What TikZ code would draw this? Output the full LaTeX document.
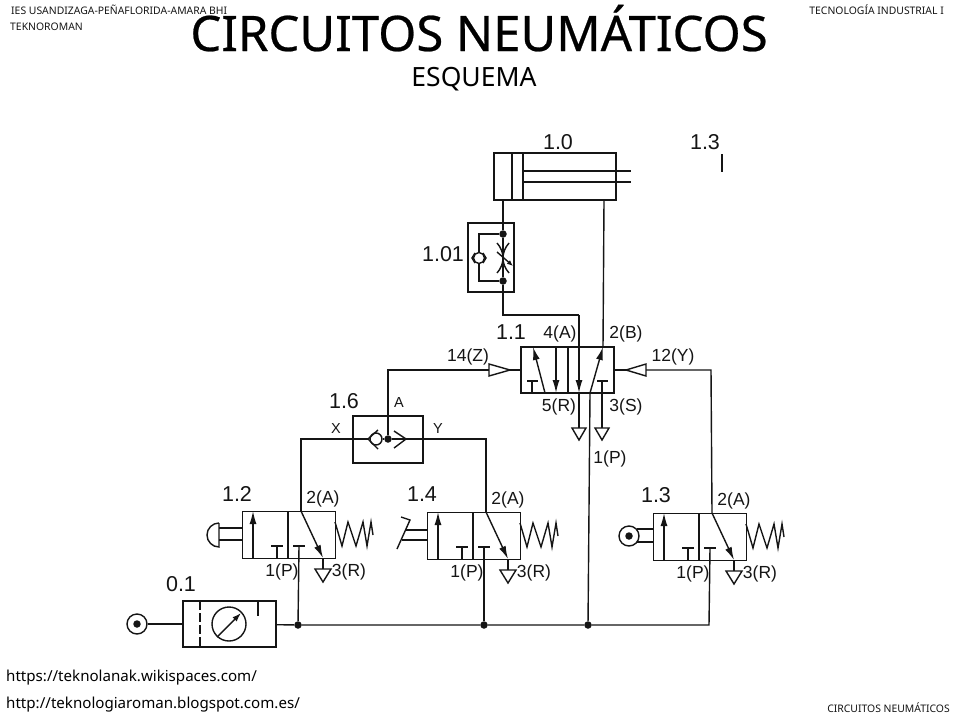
\documentclass[tikz,border=0pt]{standalone}
\usepackage{fontspec}
\setmainfont{Liberation Sans}
\newfontfamily\slidefont{Noto Sans}
\newfontfamily\titlefont[FakeBold=0.5]{Noto Sans}
\usetikzlibrary{arrows.meta}
\definecolor{ink}{HTML}{151515}
\tikzstyle{pipe} = [draw=ink, line width=1.4pt]
\tikzstyle{flow} = [pipe, -{Latex[length=13pt,width=7pt]}]
\tikzstyle{box} = [draw=ink, line width=1.4pt, rectangle, inner sep=0pt]
\tikzstyle{junction} = [fill=ink, circle, inner sep=0pt, minimum size=7.5pt]
\tikzstyle{ring} = [draw=ink, line width=1.4pt, circle, inner sep=0pt]
\tikzstyle{tag} = [inner sep=0pt, text=ink, font=\fontsize{17.5}{19}\selectfont]
\tikzstyle{port} = [inner sep=0pt, text=ink, font=\fontsize{14.5}{16}\selectfont]
\tikzstyle{ident} = [inner sep=0pt, text=ink, font=\fontsize{21.5}{24}\selectfont]
\tikzstyle{small} = [inner sep=0pt, text=ink, font=\slidefont\fontsize{10.4}{12}\selectfont]
\tikzstyle{link} = [inner sep=0pt, text=black, font=\slidefont\fontsize{15.1}{17}\selectfont]
\begin{document}
\begin{tikzpicture}[x=1pt,y=-1pt]
    \useasboundingbox[fill=white] (0,0) rectangle (960,720);
    % slide texts
    \node[small,anchor=west](school) at (11,10){IES USANDIZAGA-PEÑAFLORIDA-AMARA BHI};
    \node[small,anchor=west](team) at (10,27){TEKNOROMAN};
    \node[small,anchor=east](course) at (944,10){TECNOLOGÍA INDUSTRIAL I};
    \node[small,anchor=east](topic) at (950,708){CIRCUITOS NEUMÁTICOS};
    \node[inner sep=0pt,text=black,font=\titlefont\fontsize{49}{52}\selectfont,anchor=base](title) at (479,51){CIRCUITOS NEUMÁTICOS};
    \node[inner sep=0pt,text=black,font=\slidefont\fontsize{26.5}{29}\selectfont,anchor=base](sub) at (474,86){ESQUEMA};
    \node[link,anchor=west](wiki) at (6,678){https://teknolanak.wikispaces.com/};
    \node[link,anchor=west](blog) at (6,705){http://teknologiaroman.blogspot.com.es/};
    % cylinder 1.0
    \node[box,minimum width=122pt,minimum height=47pt](cyl) at (555,176.5){};
    \node[ident](n10) at (558,142){1.0};
    \node[ident](n13top) at (705,142){1.3};
    \coordinate (lim1) at (722,154);
    \coordinate (lim2) at (722,172);
    \draw[pipe] (lim1)--(lim2);
    \draw[pipe] (512,153)--(512,200);
    \draw[pipe] (523,153)--(523,200);
    \draw[pipe] (523,171)--(631,171);
    \draw[pipe] (523,182)--(631,182);
    \coordinate (cylA) at (503,200);
    \coordinate (cylB) at (604,200);
    % flow control 1.01
    \node[box,minimum width=46pt,minimum height=69pt](fc) at (491,257.5){};
    \node[ident](n101) at (443,254){1.01};
    \node[junction](fcT) at (503,234){};
    \node[junction](fcB) at (503,281){};
    \node[ring,minimum size=11pt](fcBall) at (479,258){};
    \draw[pipe] (cylA)--(fcT);
    \draw[pipe] (fcT)--(fcB);
    \draw[pipe] (fcT)-|(fcBall);
    \draw[pipe] (fcB)-|(fcBall);
    \draw[pipe] (475,253)--(472,258)--(475,263);
    \draw[pipe] (483,253)--(486,258)--(483,263);
    \draw[pipe] (497,243) .. controls (505,252) and (505,264) .. (497,273);
    \draw[pipe] (509,243) .. controls (501,252) and (501,264) .. (509,273);
    \draw[pipe,-{Latex[length=6pt,width=5pt]}] (497,252)--(513,266);
    % valve 1.1
    \node[box,minimum width=93pt,minimum height=46pt](v11) at (567.5,370){};
    \node[ident](n11) at (511,332){1.1};
    \node[tag](p4) at (560,334){4(A)};
    \node[tag](p2) at (626,334){2(B)};
    \node[tag](p14) at (468,357){14(Z)};
    \node[tag](p12) at (673,357){12(Y)};
    \node[tag](p5) at (559,407){5(R)};
    \node[tag](p3) at (626,407){3(S)};
    \node[tag](p1) at (610,459){1(P)};
    \coordinate (bend1) at (503,315);
    \coordinate (bend2) at (579,315);
    \coordinate (tipA) at (579,393);
    \coordinate (tipB) at (603,347);
    \coordinate (inP) at (590,393);
    \draw[pipe] (568,347)--(568,393);
    \draw[flow] (545,393)--(533,347);
    \draw[flow] (556,347)--(556,393);
    \draw[pipe] (532,393)--(532,381);
    \draw[pipe] (527,381)--(538,381);
    \draw[pipe] (597,381)--(608,381);
    \draw[pipe] (fcB)--(bend1)--(bend2);
    \draw[flow] (bend2)--(tipA);
    \draw[pipe] (cylB)--(tipB);
    \draw[flow] (inP)--(tipB);
    \draw[pipe] (tipA)--(579,428);
    \draw[pipe] (602,381)--(602,428);
    \draw[pipe,fill=white,line join=miter] (572,428)--(586,428)--(579,440)--cycle;
    \draw[pipe,fill=white,line join=miter] (595,428)--(609,428)--(602,440)--cycle;
    % shuttle valve 1.6
    \node[box,minimum width=70pt,minimum height=47pt](sv) at (388,439.5){};
    \node[ident](n16) at (344,401){1.6};
    \node[port](pA) at (399,403){A};
    \node[port](pX) at (336,429){X};
    \node[port](pY) at (438,429){Y};
    \node[junction](svC) at (388,439){};
    \node[ring,minimum size=12pt](svBall) at (376,439){};
    \coordinate (z1) at (388,370);
    \coordinate (z2) at (489,370);
    \coordinate (z3) at (510,370);
    \coordinate (z4) at (521,370);
    \coordinate (y2) at (646,370);
    \coordinate (y3) at (626,370);
    \coordinate (y4) at (614,370);
    \draw[pipe] (svC)--(z1)--(z2);
    \draw[pipe] (z3)--(z4);
    \draw[pipe] (y4)--(y3);
    \draw[pipe] (489,364)--(510,370)--(489,376)--cycle;
    \draw[pipe] (646,364)--(626,370)--(646,376)--cycle;
    \draw[pipe] (svC)--(svBall);
    \draw[pipe] (svC)--(406,439);
    \draw[pipe] (394,431)--(406,439)--(394,448);
    \draw[pipe] (378,430)--(368,439)--(378,449);
    % three 3/2 valves
    \foreach \vname/\vx/\vy in {a/242/511,b/427/512,c/653/513}{
      \begin{scope}[shift={(\vx,\vy)}]
        \node[box,minimum width=93pt,minimum height=47pt,anchor=north west](v\vname) at (0,0){};
        \coordinate (out\vname) at (59,0);
        \coordinate (in\vname) at (57,35);
        \node[tag](tA\vname) at (81,-12){2(A)};
        \node[tag](tP\vname) at (40,61){1(P)};
        \node[tag](tR\vname) at (107,61){3(R)};
        \draw[pipe] (46,0)--(46,47);
        \draw[flow] (11,47)--(11,0);
        \draw[pipe] (35,47)--(35,35);
        \draw[pipe] (29,35)--(41,35);
        \draw[pipe] (51,35)--(63,35);
        \draw[flow] (59,0)--(81,47);
        \draw[pipe] (81,47)--(81,58);
        \draw[pipe,line join=miter] (73,58)--(89,58)--(81,71)--cycle;
        \draw[pipe] (93,11)--(100,35)--(106,11)--(114,35)--(121,11)--(125,35)--(129,11)--(131,24);
      \end{scope}
    }
    \node[ident](n12) at (237,494){1.2};
    \node[ident](n14) at (422,494){1.4};
    \node[ident](n13) at (656,495){1.3};
    \coordinate (xc) at (301,439);
    \coordinate (yc) at (486,439);
    \coordinate (yt) at (711,370);
    \draw[pipe] (368,439)--(xc)--(outa);
    \draw[pipe] (406,439)--(yc)--(outb);
    \draw[pipe] (y2)--(yt)--(outc);
    % push button, pedal, roller
    \draw[pipe] (242,528)--(219,528);
    \draw[pipe] (242,540)--(219,540);
    \draw[pipe] (219,523)--(219,547) arc[start angle=90,end angle=270,radius=12];
    \draw[pipe] (427,530)--(406,530);
    \draw[pipe] (427,540)--(402,540);
    \draw[pipe] (397,549)--(410,520)--(401,517);
    \node[ring,minimum size=20pt](roller) at (629,536){};
    \node[junction](rollerC) at (629,536){};
    \draw[pipe] (653,529)--(637,529);
    \draw[pipe] (653,542)--(637,542);
    % supply 0.1
    \node[box,minimum width=93pt,minimum height=46pt](fr) at (229.5,624){};
    \node[ident](n01) at (181,584){0.1};
    \node[ring,minimum size=20pt](src) at (137,624){};
    \node[junction](srcC) at (137,624){};
    \node[ring,minimum size=34pt](gauge) at (229,624){};
    \node[junction](j1) at (298,625){};
    \node[junction](j2) at (484,625){};
    \node[junction](j3) at (588,625){};
    \coordinate (endc) at (709,625);
    \draw[pipe] (src)--(fr);
    \draw[pipe,dash pattern=on 9pt off 3pt] (200,601)--(200,647);
    \draw[pipe] (258,601)--(258,616);
    \draw[pipe,-{Latex[length=9pt,width=6pt]}] (217,637)--(241,613);
    \draw[pipe] (fr)--(j1)--(j2)--(j3)--(endc)--(inc);
    \draw[pipe] (j1)--(ina);
    \draw[pipe] (j2)--(inb);
    \draw[pipe] (j3)--(inP);
\end{tikzpicture}
\end{document}
